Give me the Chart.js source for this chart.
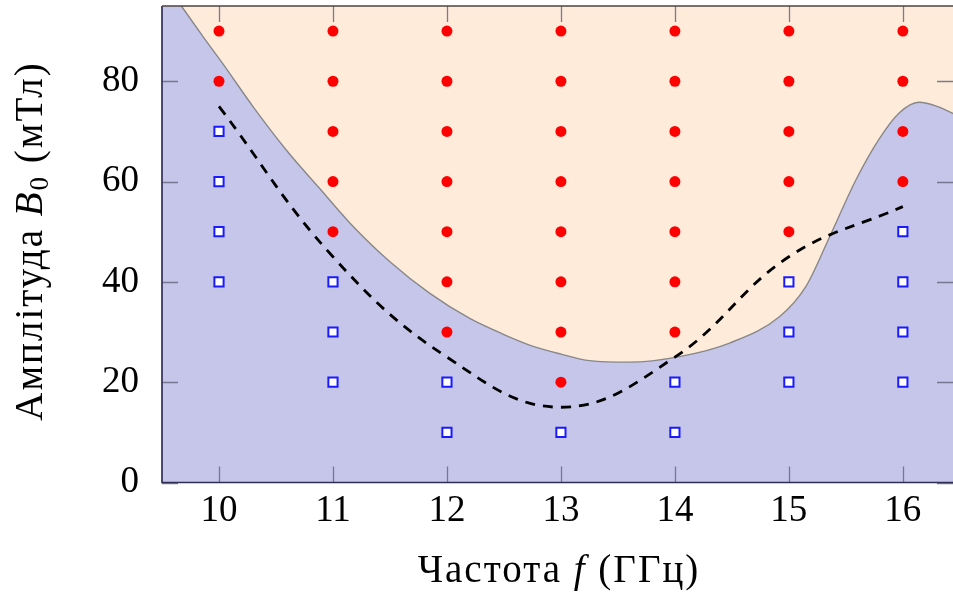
<!DOCTYPE html>
<html>
<head>
<meta charset="utf-8">
<script src="https://cdn.jsdelivr.net/npm/chart.js@4.4.0/dist/chart.umd.min.js"></script>
<style>
  html, body { margin: 0; padding: 0; background: #fff; }
  #chart { display: block; }
</style>
</head>
<body>
<canvas id="chart" width="953" height="595"></canvas>
<script>
// frequencies, GHz
var freqs = [10, 11, 12, 13, 14, 15, 16];
var xTicks = [10, 11, 12, 13, 14, 15, 16];
var yTicks = [0, 20, 40, 60, 80];

// red dots (B0, mT) for each frequency
var redB = [
  [80, 90],
  [50, 60, 70, 80, 90],
  [30, 40, 50, 60, 70, 80, 90],
  [20, 30, 40, 50, 60, 70, 80, 90],
  [30, 40, 50, 60, 70, 80, 90],
  [50, 60, 70, 80, 90],
  [60, 70, 80, 90]
];
// open blue squares (B0, mT) for each frequency
var blueB = [
  [40, 50, 60, 70],
  [20, 30, 40],
  [10, 20],
  [10],
  [10, 20],
  [20, 30, 40],
  [20, 30, 40, 50]
];
// dashed curve
var dashB = [75, 45, 25, 15, 25, 45, 55];

// boundary between the two regions
var edgeF = [9.5, 9.67, 9.86, 10.03, 10.3, 10.59, 10.88, 11.15, 11.5, 11.85, 12.2, 12.5, 12.75, 13.0, 13.25, 13.6, 14.04, 14.48, 14.92, 15.15, 15.36, 15.59, 15.79, 15.97, 16.14, 16.3, 16.5];
var edgeB = [100.5, 95, 88.9, 83.6, 74.9, 66.3, 58.7, 51.7, 44.0, 37.7, 32.7, 29.5, 27.2, 25.6, 24.3, 24.0, 25.1, 27.8, 33.1, 39.1, 49.1, 60.4, 68.4, 73.7, 75.8, 75.0, 72.9];

var FONT = "'Liberation Serif', 'DejaVu Serif', serif";

function toPoints(xs, groups) {
  var pts = [];
  for (var i = 0; i < xs.length; i++) {
    for (var j = 0; j < groups[i].length; j++) {
      pts.push({x: xs[i], y: groups[i][j]});
    }
  }
  return pts;
}
function pairs(xs, ys) {
  return xs.map(function (v, i) { return {x: v, y: ys[i]}; });
}

// inward tick marks and axis lines
var frame = {
  id: 'frame',
  afterDatasetsDraw: function (chart) {
    var ctx = chart.ctx, a = chart.chartArea;
    var sx = chart.scales.x, sy = chart.scales.y;
    var len = 16;
    ctx.save();
    ctx.strokeStyle = 'rgba(110,110,135,0.9)';
    ctx.lineWidth = 1.3;
    ctx.beginPath();
    xTicks.forEach(function (v) {
      var px = Math.round(sx.getPixelForValue(v)) + 0.5;
      ctx.moveTo(px, a.bottom); ctx.lineTo(px, a.bottom - len);
      ctx.moveTo(px, a.top); ctx.lineTo(px, a.top + len);
    });
    yTicks.forEach(function (v) {
      var py = Math.round(sy.getPixelForValue(v)) + 0.5;
      ctx.moveTo(a.left, py); ctx.lineTo(a.left + len, py);
      ctx.moveTo(a.right, py); ctx.lineTo(a.right - len, py);
    });
    ctx.stroke();
    ctx.lineWidth = 1.7;
    ctx.strokeStyle = '#2f2f55';
    ctx.beginPath();
    ctx.moveTo(a.left, a.top); ctx.lineTo(a.left, a.bottom); ctx.lineTo(a.right, a.bottom);
    ctx.stroke();
    ctx.strokeStyle = '#4d4340';
    ctx.beginPath();
    ctx.moveTo(a.left, a.top); ctx.lineTo(a.right, a.top);
    ctx.stroke();
    ctx.restore();
  }
};

// axis titles with italic symbols
function drawParts(ctx, parts, cx, cy) {
  var total = 0;
  parts.forEach(function (p) {
    ctx.font = p.font;
    p.w = ctx.measureText(p.text).width;
    total += p.w;
  });
  var x = cx - total / 2;
  parts.forEach(function (p) {
    ctx.font = p.font;
    ctx.fillText(p.text, x, cy + (p.dy || 0));
    x += p.w;
  });
}
var titles = {
  id: 'titles',
  afterDraw: function (chart) {
    var ctx = chart.ctx;
    var n = '39px ' + FONT, it = 'italic 39px ' + FONT, sm = '27px ' + FONT;
    ctx.save();
    ctx.fillStyle = '#000';
    ctx.textBaseline = 'alphabetic';
    ctx.textAlign = 'left';
    ctx.letterSpacing = '2px';
    drawParts(ctx, [
      {text: 'Частота ', font: n},
      {text: 'f', font: it},
      {text: ' (ГГц)', font: n}
    ], 559, 582);
    ctx.translate(42, 241);
    ctx.rotate(-Math.PI / 2);
    drawParts(ctx, [
      {text: 'Амплітуда ', font: n},
      {text: 'B', font: it},
      {text: '0', font: sm, dy: 6},
      {text: ' (мТл)', font: n}
    ], 0, 0);
    ctx.restore();
  }
};

new Chart(document.getElementById('chart'), {
  type: 'scatter',
  data: {
    datasets: [
      {
        data: toPoints(freqs, redB),
        backgroundColor: '#ff0000',
        borderWidth: 0,
        pointRadius: 5.5,
        order: 0
      },
      {
        data: toPoints(freqs, blueB),
        pointStyle: 'rect',
        backgroundColor: '#ffffff',
        borderColor: '#1a1aff',
        borderWidth: 2,
        pointRadius: 6.5,
        order: 0
      },
      {
        type: 'line',
        data: pairs(freqs, dashB),
        borderColor: '#000',
        borderWidth: 2.8,
        borderDash: [10, 8],
        tension: 0.4,
        pointRadius: 0,
        fill: false,
        order: 1
      },
      {
        type: 'line',
        data: pairs(edgeF, edgeB),
        borderColor: '#888888',
        borderWidth: 1.4,
        cubicInterpolationMode: 'monotone',
        pointRadius: 0,
        fill: 'start',
        backgroundColor: '#c5c6ea',
        order: 2
      },
      {
        type: 'line',
        data: pairs(edgeF, edgeB),
        borderWidth: 0,
        cubicInterpolationMode: 'monotone',
        pointRadius: 0,
        fill: 'end',
        backgroundColor: '#feebda',
        order: 3
      }
    ]
  },
  options: {
    responsive: false,
    animation: false,
    devicePixelRatio: 1,
    layout: { autoPadding: false, padding: { top: 6, right: 0, left: 0, bottom: 0 } },
    plugins: { legend: { display: false }, tooltip: { enabled: false } },
    scales: {
      x: {
        type: 'linear',
        min: 9.5,
        max: 16.44,
        grid: { display: false },
        border: { display: false },
        afterBuildTicks: function (s) { s.ticks = xTicks.map(function (v) { return {value: v}; }); },
        afterFit: function (s) {
          s.height = 112.5;
          s.paddingLeft = 0; s.paddingRight = 0;
        },
        ticks: { color: '#000', padding: 2, font: { family: FONT, size: 37, lineHeight: 1 } }
      },
      y: {
        type: 'linear',
        min: 0,
        max: 95,
        grid: { display: false },
        border: { display: false },
        afterBuildTicks: function (s) { s.ticks = yTicks.map(function (v) { return {value: v}; }); },
        afterFit: function (s) {
          s.width = 162;
          s.paddingTop = 0; s.paddingBottom = 0;
        },
        ticks: { color: '#000', padding: 15, font: { family: FONT, size: 37 } }
      }
    }
  },
  plugins: [frame, titles]
});
</script>
</body>
</html>
